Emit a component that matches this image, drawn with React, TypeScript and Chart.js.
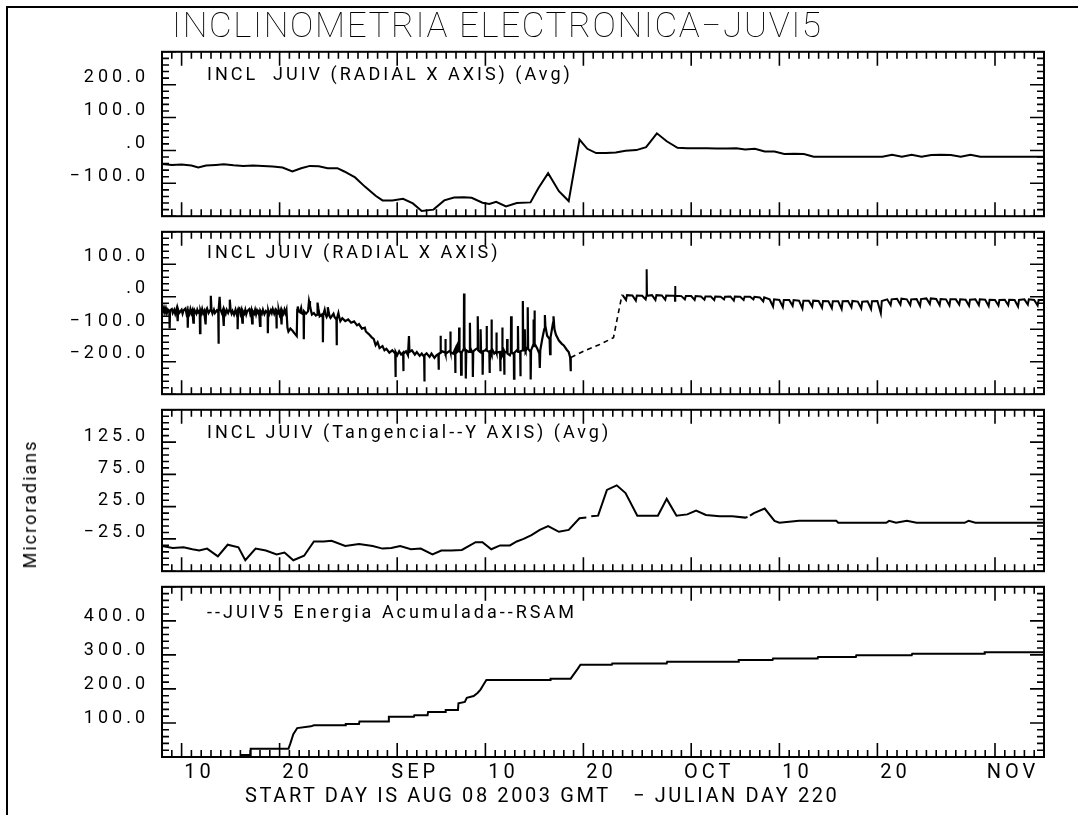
import React, { useEffect, useRef } from "react";
import { Chart, registerables } from "chart.js";

Chart.register(...registerables);

// ---------------- data (x = days after AUG 08 2003) ----------------
const xMajorDays = [2, 12, 24, 33, 43, 54, 63, 73, 85];
const xMajorLabels = ["10", "20", "SEP", "10", "20", "OCT", "10", "20", "NOV"];

const avgRadial: [number, number][] = [
  [0, -41], [1, -44], [2, -43], [3, -46], [3.7, -52], [4.5, -46], [5.5, -44], [6.3, -42], [7.3, -45],
  [8.3, -47], [9.3, -46], [10.3, -47], [11.3, -49], [12.3, -52], [13.3, -64], [14.2, -54], [15.1, -47],
  [16.0, -48], [16.9, -54], [17.9, -54], [18.6, -64], [19.7, -82], [20.7, -110], [21.8, -138], [22.5, -152],
  [23.5, -152], [24.6, -147], [25.6, -161], [26.5, -184], [27.7, -180], [28.8, -152], [29.8, -143],
  [30.8, -142], [31.6, -144], [32.7, -159], [33.4, -163], [34.1, -156], [35.1, -170], [36.2, -160],
  [37.6, -158], [38.4, -115], [39.4, -69], [40.5, -124], [41.5, -154], [42.6, 33], [43.4, 5], [44.3, -8],
  [45.3, -8], [46.3, -6], [47.3, -1], [48.4, 1], [49.4, 10], [50.5, 52], [51.5, 28], [52.6, 8], [53.6, 7],
  [54.6, 7], [55.6, 7], [56.6, 6], [57.6, 6], [58.6, 7], [59.5, 3], [60.5, 5], [61.5, -3], [62.5, -3],
  [63.5, -11], [64.5, -10], [65.5, -11], [66.5, -19], [67.5, -19], [68.5, -19], [69.5, -19], [70.5, -19],
  [71.5, -19], [72.5, -19], [73.5, -19], [74.5, -13], [75.5, -19], [76.5, -13], [77.5, -19], [78.5, -14],
  [79.5, -13], [80.5, -14], [81.5, -19], [82.5, -13], [83.5, -19], [84.5, -19], [85.5, -19], [86.5, -19],
  [87.5, -19], [88.5, -19], [90, -19],
];

const radialEarly: [number, number][] = [
  [0.0, -30], [0.1, -46], [0.2, -34], [0.3, -48], [0.4, -36], [0.5, -50], [0.6, -40], [0.75, -48], [0.78, -98],
  [0.82, -42], [1.0, -38], [1.1, -50], [1.25, -40], [1.35, -52], [1.5, -36], [1.6, -75], [1.65, -40],
  [1.75, -50], [2.0, -40], [2.1, -52], [2.2, -42], [2.4, -36], [2.5, -52], [2.6, -44], [2.63, -95],
  [2.67, -42], [2.8, -52], [2.9, -38], [3.0, -50], [3.1, -42], [3.2, -80], [3.25, -44], [3.3, -40],
  [3.5, -52], [3.6, -40], [3.7, -48], [3.85, -42], [3.88, -112], [3.92, -44], [4.0, -52], [4.1, -38],
  [4.2, -50], [4.3, -44], [4.45, -85], [4.5, -42], [4.6, -36], [4.75, -50], [4.9, -42], [4.98, 3],
  [5.05, -42], [5.15, -52], [5.3, -40], [5.4, -50], [5.6, -42], [5.74, -48], [5.76, -145], [5.8, -40],
  [5.88, 0], [5.95, -38], [6.1, -50], [6.2, -42], [6.3, -90], [6.35, -40], [6.5, -52], [6.6, -40],
  [6.75, -50], [6.9, -38], [6.92, -9], [7.0, -42], [7.1, -52], [7.2, -44], [7.35, -55], [7.5, -40],
  [7.6, -52], [7.7, -44], [7.72, -100], [7.76, -40], [7.9, -36], [8.0, -52], [8.1, -42], [8.2, -80],
  [8.25, -44], [8.4, -52], [8.5, -40], [8.6, -54], [8.7, -44], [8.9, -38], [9.0, -52], [9.1, -42],
  [9.2, -82], [9.25, -44], [9.4, -52], [9.5, -40], [9.6, -54], [9.7, -42], [9.85, -52], [9.9, -40],
  [10.0, -90], [10.05, -44], [10.2, -52], [10.3, -40], [10.45, -54], [10.6, -44], [10.78, -50],
  [10.8, -112], [10.84, -42], [10.95, -54], [11.1, -42], [11.2, -50], [11.3, -38], [11.45, -52],
  [11.55, -42], [11.66, -50], [11.68, -98], [11.72, -44], [11.85, -52], [11.9, -40], [12.0, -54],
  [12.1, -44], [12.2, -85], [12.25, -42], [12.4, -52], [12.5, -40], [12.6, -50], [12.7, -40],
  [12.8, -95], [12.9, -107], [13.1, -98], [13.3, -104], [13.5, -112], [13.75, -121], [13.8, -40],
  [13.85, -30], [13.95, -45], [14.1, -48], [14.2, -35], [14.3, -52], [14.45, -55], [14.47, -131],
  [14.5, -45], [14.7, -52], [14.9, -45], [15.0, -13], [15.1, -28], [15.2, -42], [15.3, -55], [15.5, -50],
  [15.7, -58], [15.85, -55], [15.87, -18], [15.95, -35], [16.05, -52], [16.1, -60], [16.3, -55],
  [16.4, -64], [16.42, -140], [16.45, -56], [16.6, -40], [16.7, -55], [16.8, -62], [16.9, -55],
  [16.92, -32], [17.0, -45], [17.1, -60], [17.2, -65], [17.5, -52], [17.6, -62], [17.8, -70],
  [17.82, -149], [17.85, -68], [18.0, -50], [18.1, -65], [18.2, -75], [18.4, -66], [18.7, -75],
  [19.0, -70], [19.3, -80], [19.6, -76], [19.9, -88], [20.1, -84], [20.4, -98], [20.7, -95],
  [20.8, -107], [21.1, -115], [21.4, -125], [21.6, -130], [21.8, -149], [22.0, -140], [22.2, -158],
  [22.5, -152], [22.7, -165], [22.9, -160], [23.2, -172], [23.5, -165], [23.8, -175], [23.82, -247],
  [23.86, -170], [24.0, -180], [24.2, -168], [24.4, -178], [24.6, -172], [24.62, -229], [24.66, -175],
  [24.9, -168], [25.1, -180], [25.2, -121], [25.25, -170], [25.5, -165], [25.8, -178], [26.0, -170],
  [26.3, -182], [26.5, -175], [26.75, -185], [26.77, -261], [26.8, -180], [27.0, -174], [27.3, -185],
  [27.5, -175], [27.8, -188], [28.0, -180], [28.2, -176], [28.22, -225], [28.26, -178], [28.3, -175],
  [28.4, -172], [28.42, -120], [28.46, -172], [28.6, -168], [28.9, -172], [28.92, -130], [28.95, -176],
  [29.2, -170], [29.4, -165], [29.42, -107], [29.46, -170], [29.7, -175], [29.9, -162], [29.92, -235],
  [29.96, -160], [30.1, -150], [30.12, -170], [30.3, -165], [30.32, -95], [30.36, -168], [30.5, -172],
  [30.52, -240], [30.56, -170], [30.6, -172], [30.8, -160], [30.82, 10], [30.86, -155], [30.98, -170],
  [31.0, -252], [31.05, -165], [31.3, -170], [31.4, -168], [31.42, -80], [31.46, -170], [31.5, -160],
  [31.7, -175], [31.72, -247], [31.76, -168], [32.0, -162], [32.2, -158], [32.22, -60], [32.26, -165],
  [32.45, -170], [32.5, -168], [32.52, -100], [32.56, -172], [32.7, -175], [32.72, -240], [32.76, -168],
  [33.0, -165], [33.1, -160], [33.12, -90], [33.16, -166], [33.4, -170], [33.42, -235], [33.46, -168],
  [33.6, -165], [33.62, -70], [33.66, -170], [33.7, -162], [33.9, -175], [34.1, -168], [34.12, -110],
  [34.16, -172], [34.4, -170], [34.5, -176], [34.52, -229], [34.56, -170], [34.7, -168], [34.72, -95],
  [34.76, -172], [34.8, -165], [34.9, -170], [34.92, -240], [34.96, -168], [35.0, -172], [35.2, -170],
  [35.22, -130], [35.26, -175], [35.5, -180], [35.6, -172], [35.62, -60], [35.66, -175], [35.7, -170],
  [35.9, -178], [35.92, -252], [35.96, -172], [36.2, -165], [36.3, -168], [36.32, -90], [36.36, -170],
  [36.5, -170], [36.55, -172], [36.57, -245], [36.6, -168], [36.8, -165], [36.82, -13], [36.86, -160],
  [37.0, -165], [37.02, -100], [37.06, -165], [37.1, -168], [37.3, -155], [37.32, -32], [37.36, -160],
  [37.6, -170], [37.62, -255], [37.66, -165], [37.85, -150], [37.9, -152], [37.92, -70], [37.96, -148],
  [38.0, -140], [38.02, -42], [38.06, -145], [38.3, -160], [38.5, -175], [38.55, -219], [38.6, -165],
  [38.8, -130], [39.0, -100], [39.07, -56], [39.12, -90], [39.3, -120], [39.55, -130], [39.6, -177],
  [39.65, -125], [39.9, -80], [39.95, -60], [40.05, -100], [40.2, -117], [40.5, -135], [40.8, -145],
  [41.0, -150], [41.3, -163], [41.5, -170], [41.65, -187], [41.7, -229], [41.72, -187],
];

const radialGap: [number, number][] = [
  [41.72, -187], [43.2, -165], [44.6, -148], [46.07, -126], [46.5, -60], [46.95, 7],
];

const radialLateDays = [
  47, 48, 49, 50, 51, 52, 53, 54, 55, 56, 57, 58, 59, 60, 61, 62, 63, 64, 65, 66, 67, 68,
  69, 70, 71, 72, 73, 74, 75, 76, 77, 78, 79, 80, 81, 82, 83, 84, 85, 86, 87, 88, 89,
];
const radialLateBase = [
  5, 4, 3, 5, 4, 3, 2, 2, 1, 1, 0, 1, 0, 0, -2, -8, -10, -10, -12, -12, -13, -14,
  -14, -13, -15, -14, -13, -8, -6, -8, -7, -5, -7, -8, -8, -9, -8, -9, -10, -9, -10, -8, -10,
];
const radialLateDip = [
  -10, -12, -8, -10, -9, -12, -8, -10, -9, -10, -8, -12, -10, -8, -14, -30, -32, -28, -36, -30, -34, -35,
  -38, -32, -36, -38, -51, -26, -24, -26, -28, -22, -26, -27, -24, -28, -26, -29, -27, -26, -30, -24, -27,
];
const radialLateSpikes: [number, number][] = [[49.46, 85], [52.36, 33]];
const radialEnd: [number, number] = [90, -10];

const tangential: [number, number | null][] = [
  [0, -36], [1.1, -39], [2.2, -38], [3.1, -41], [3.8, -43], [4.6, -40], [5.7, -52], [6.7, -34], [7.8, -38],
  [8.5, -58], [9.55, -40], [10.6, -43], [11.7, -49], [12.5, -46], [13.4, -58], [14.5, -51], [15.5, -29],
  [16.5, -29], [17.3, -28], [18.7, -36], [20.1, -33], [21.5, -36], [22.5, -40], [23.4, -39], [24.3, -36],
  [25.4, -41], [26.4, -40], [27.6, -49], [28.5, -43], [29.5, -43], [30.6, -42], [32.0, -30], [32.7, -30],
  [33.6, -41], [34.5, -35], [35.5, -35], [36.2, -29], [36.9, -25], [37.7, -19], [38.55, -11], [39.4, -5],
  [40.5, -14], [41.5, -11], [42.6, 7], [43.3, 8], [43.55, null], [43.8, 10], [44.5, 11], [45.4, 51],
  [46.4, 58], [47.3, 46], [48.5, 11], [49.5, 11], [50.6, 11], [51.5, 37], [52.5, 11], [53.6, 13],
  [54.5, 19], [55.5, 12], [56.9, 10], [58.2, 10], [59.5, 8], [59.75, 9], [59.85, null], [60.0, 11],
  [60.4, 15], [61.5, 22], [62.5, 3], [63.0, 0], [65.0, 3], [68.8, 3], [69.0, 0], [73.9, 0], [74.2, 3],
  [74.9, 0], [76.0, 3], [77.0, 0], [81.9, 0], [82.3, 3], [83.0, 0], [90, 0],
];

const rsam: [number, number][] = [
  [0, 0], [8, 0], [8.05, 6], [9, 6], [9.05, 24], [12.9, 24], [13.1, 40], [13.4, 67], [13.8, 85], [15.2, 90],
  [15.5, 93], [18.7, 93], [18.75, 97], [20.1, 97], [20.15, 104], [23.1, 104], [23.15, 118], [25.7, 118],
  [25.75, 123], [27.1, 123], [27.15, 132], [28.9, 132], [28.95, 138], [30.2, 138], [30.25, 158], [30.9, 162],
  [31.1, 174], [31.8, 179], [32.2, 188], [32.5, 198], [32.8, 212], [33.1, 226], [39.6, 226], [39.65, 230],
  [41.7, 230], [42.05, 244], [42.4, 258], [42.7, 271], [45.9, 271], [45.95, 275], [51.5, 275], [51.55, 280],
  [58.8, 280], [58.85, 285], [62.3, 285], [62.35, 289], [66.9, 289], [66.95, 294], [70.8, 294], [70.85, 299],
  [76.5, 299], [76.55, 303], [83.9, 303], [83.95, 308], [90, 308],
];

const yTicks1 = [200, 100, 0, -100];
const yLabels1 = ["200.0", "100.0", ".0", "\u2212100.0"];
const yTicks2 = [100, 0, -100, -200];
const yLabels2 = ["100.0", ".0", "\u2212100.0", "\u2212200.0"];
const yTicks3 = [125, 75, 25, -25];
const yLabels3 = ["125.0", "75.0", "25.0", "\u221225.0"];
const yTicks4 = [400, 300, 200, 100];
const yLabels4 = ["400.0", "300.0", "200.0", "100.0"];

// ---------------- layout ----------------
const W = 1078;
const H = 815;
const PLOT_LEFT = 162;
const PLOT_RIGHT = 1044;
const PAD = 16;
const XAXIS_H = 40;
const FONT = "Roboto, 'DejaVu Sans', sans-serif";

type Panel = {
  top: number;
  bottom: number;
  min: number;
  max: number;
  major: number;
  minor: number;
  ticks: number[];
  labels: string[];
  labelShift: number;
  showX: boolean;
  datasets: any[];
};

const toPts = (arr: [number, number | null][]) => arr.map(([x, y]) => ({ x, y }));

function buildLate() {
  const pts: { x: number; y: number }[] = [];
  radialLateDays.forEach((d, i) => {
    pts.push({ x: d, y: radialLateBase[i] });
    pts.push({ x: d + 0.35, y: radialLateDip[i] });
    pts.push({ x: d + 0.45, y: radialLateBase[i] });
  });
  radialLateSpikes.forEach(([d, v]) => {
    const i = radialLateDays.indexOf(Math.floor(d));
    const b = radialLateBase[i];
    pts.push({ x: d - 0.03, y: b }, { x: d, y: v }, { x: d + 0.03, y: b });
  });
  pts.push({ x: radialEnd[0], y: radialEnd[1] });
  pts.sort((a, b) => a.x - b.x);
  return pts;
}

const line = (data: any[], extra: any = {}) => ({
  data,
  borderColor: "#000",
  borderWidth: 2,
  pointRadius: 0,
  fill: false,
  tension: 0,
  spanGaps: false,
  ...extra,
});

const panels: Panel[] = [
  {
    top: 44, bottom: 224, min: -200, max: 300, major: 100, minor: 20,
    ticks: yTicks1, labels: yLabels1, labelShift: -7, showX: false,
    datasets: [line(toPts(avgRadial))],
  },
  {
    top: 224, bottom: 402, min: -300, max: 200, major: 100, minor: 20,
    ticks: yTicks2, labels: yLabels2, labelShift: -8, showX: false,
    datasets: [
      line(toPts(radialEarly), { borderWidth: 2.2 }),
      line(toPts(radialGap), { borderDash: [5, 4], borderWidth: 1.6 }),
      line(buildLate(), { borderWidth: 2 }),
    ],
  },
  {
    top: 402, bottom: 579, min: -75, max: 175, major: 50, minor: 10,
    ticks: yTicks3, labels: yLabels3, labelShift: -6, showX: false,
    datasets: [line(toPts(tangential))],
  },
  {
    top: 579, bottom: 757, min: 0, max: 500, major: 100, minor: 20,
    ticks: yTicks4, labels: yLabels4, labelShift: -4, showX: true,
    datasets: [line(toPts(rsam))],
  },
];

function canvasGeom(p: Panel) {
  const top = p.top - PAD;
  const height = p.showX ? H - top : p.bottom - p.top + 2 * PAD;
  return { top, height };
}

function makeConfig(p: Panel): any {
  const g = canvasGeom(p);
  const padBottom = p.showX ? g.height - (p.bottom - g.top) - XAXIS_H : PAD;
  const idl = {
    id: "idlFrame",
    beforeDraw(chart: any) {
      chart.ctx.letterSpacing = "4px";
    },
    afterDraw(chart: any) {
      const { ctx, chartArea: a, scales } = chart;
      const xs = scales.x;
      const ys = scales.y;
      ctx.save();
      ctx.letterSpacing = "0px";
      ctx.strokeStyle = "#000";
      ctx.lineWidth = 2;
      ctx.strokeRect(a.left, a.top, a.right - a.left, a.bottom - a.top);
      ctx.lineWidth = 1.6;
      ctx.beginPath();
      for (let d = 0; d <= 90; d++) {
        const px = xs.getPixelForValue(d);
        const L = xMajorDays.includes(d) ? 14 : 7;
        ctx.moveTo(px, a.top);
        ctx.lineTo(px, a.top + L);
        ctx.moveTo(px, a.bottom);
        ctx.lineTo(px, a.bottom - L);
      }
      const n = Math.round((p.max - p.min) / p.minor);
      for (let k = 0; k <= n; k++) {
        const v = p.min + k * p.minor;
        const py = ys.getPixelForValue(v);
        const isMajor = Math.abs((v - p.min) % p.major) < 1e-6;
        const L = isMajor ? 14 : 7;
        ctx.moveTo(a.left, py);
        ctx.lineTo(a.left + L, py);
        ctx.moveTo(a.right, py);
        ctx.lineTo(a.right - L, py);
      }
      ctx.stroke();
      ctx.restore();
    },
  };
  return {
    type: "line",
    data: { datasets: p.datasets },
    options: {
      responsive: false,
      animation: false,
      devicePixelRatio: 1,
      events: [],
      layout: { padding: { left: 0, right: W - PLOT_RIGHT, top: PAD, bottom: padBottom } },
      plugins: { legend: { display: false }, tooltip: { enabled: false } },
      scales: {
        x: {
          type: "linear",
          min: 0,
          max: 90,
          display: p.showX,
          position: "bottom",
          grid: { display: false, drawTicks: false },
          border: { display: false },
          afterBuildTicks: (s: any) => {
            s.ticks = xMajorDays.map((v) => ({ value: v }));
          },
          afterFit: (s: any) => {
            s.height = p.showX ? XAXIS_H : 0;
          },
          ticks: {
            autoSkip: false,
            maxRotation: 0,
            minRotation: 0,
            padding: 4,
            labelOffset: 18,
            color: "#000",
            font: { family: FONT, size: 20 },
            callback: (v: number) => {
              const i = xMajorDays.indexOf(v);
              return i >= 0 ? xMajorLabels[i] : "";
            },
          },
        },
        y: {
          type: "linear",
          min: p.min,
          max: p.max,
          position: "left",
          grid: { display: false, drawTicks: false },
          border: { display: false },
          afterBuildTicks: (s: any) => {
            s.ticks = p.ticks.map((v) => ({ value: v }));
          },
          afterFit: (s: any) => {
            s.width = PLOT_LEFT;
          },
          ticks: {
            padding: 13,
            labelOffset: p.labelShift,
            color: "#000",
            font: { family: FONT, size: 18 },
            callback: (v: number) => {
              const i = p.ticks.indexOf(v);
              return i >= 0 ? p.labels[i] : "";
            },
          },
        },
      },
    },
    plugins: [idl],
  };
}

const capTop = (cap: number, size: number) => cap - 0.1309 * size;

const textBase: React.CSSProperties = {
  position: "absolute",
  fontFamily: FONT,
  color: "#000",
  whiteSpace: "pre",
  lineHeight: 1,
};

export default function App() {
  const r0 = useRef<HTMLCanvasElement>(null);
  const r1 = useRef<HTMLCanvasElement>(null);
  const r2 = useRef<HTMLCanvasElement>(null);
  const r3 = useRef<HTMLCanvasElement>(null);
  const refs = [r0, r1, r2, r3];

  useEffect(() => {
    const charts = panels.map((p, i) => new Chart(refs[i].current as HTMLCanvasElement, makeConfig(p)));
    return () => charts.forEach((c) => c.destroy());
  }, []);

  const subtitles = [
    { text: "INCL  JUIV (RADIAL X AXIS) (Avg)", cap: 67 },
    { text: "INCL JUIV (RADIAL X AXIS)", cap: 245 },
    { text: "INCL JUIV (Tangencial--Y AXIS) (Avg)", cap: 425 },
    { text: "--JUIV5 Energia Acumulada--RSAM", cap: 605 },
  ];

  return (
    <div style={{ position: "absolute", left: 0, top: 0, width: W, height: H, background: "#fff", overflow: "hidden" }}>
      <div
        style={{
          position: "absolute", left: 6, top: 6, width: W - 6, height: H - 6,
          borderLeft: "2px solid #000", borderTop: "2px solid #000", boxSizing: "border-box",
        }}
      />
      {panels.map((p, i) => {
        const g = canvasGeom(p);
        return (
          <canvas
            key={i}
            ref={refs[i]}
            width={W}
            height={g.height}
            style={{ position: "absolute", left: 0, top: g.top, width: W, height: g.height }}
          />
        );
      })}
      <div style={{ ...textBase, left: 172, top: capTop(13, 35), fontSize: 35, fontWeight: 100, letterSpacing: "1.6px" }}>
        {"INCLINOMETRIA ELECTRONICA\u2212JUVI5"}
      </div>
      {subtitles.map((s, i) => (
        <div key={i} style={{ ...textBase, left: 207, top: capTop(s.cap, 18), fontSize: 18, letterSpacing: "3px" }}>
          {s.text}
        </div>
      ))}
      <div
        style={{
          ...textBase, left: 30, top: 504, fontSize: 18, letterSpacing: "2px",
          transform: "translate(-50%, -50%) rotate(-90deg)",
        }}
      >
        Microradians
      </div>
      <div style={{ ...textBase, left: 245, top: capTop(788, 20), fontSize: 20, letterSpacing: "2.6px" }}>
        {"START DAY IS AUG 08 2003 GMT   \u2212 JULIAN DAY 220"}
      </div>
    </div>
  );
}
